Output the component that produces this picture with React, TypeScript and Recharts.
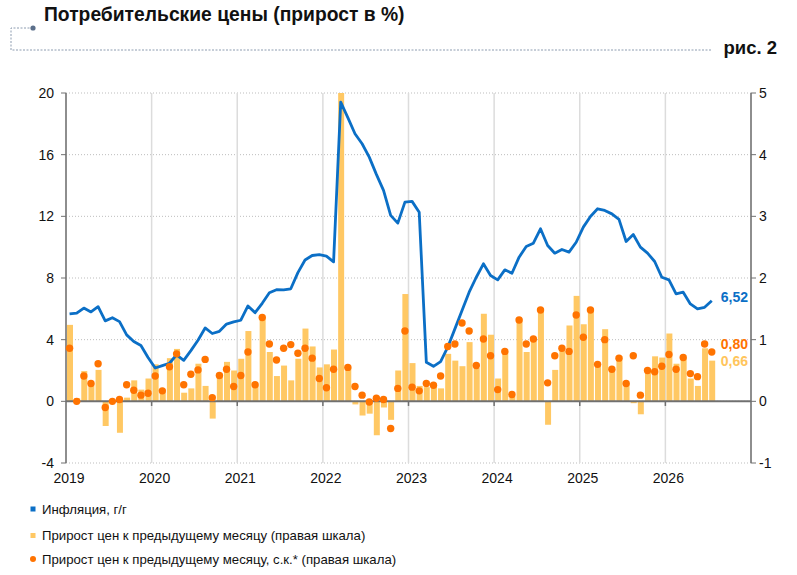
import React from 'react';
import {
  ComposedChart, Bar, Line, XAxis, YAxis, CartesianGrid, ReferenceLine, LabelList,
} from 'recharts';

// Инфляция, г/г (левая шкала), январь 2019 – июль 2026
const inflationYoY = [
  5.67, 5.72, 6.05, 5.8, 6.14, 5.22, 5.42, 5.17, 4.31, 3.88, 3.62, 2.84,
  2.16, 2.32, 2.47, 3.02, 2.66, 3.29, 3.96, 4.76, 4.4, 4.54, 5.01, 5.15,
  5.26, 6.19, 5.75, 6.36, 7.04, 7.24, 7.23, 7.3, 8.35, 9.17, 9.46, 9.51,
  9.42, 9.05, 19.41, 18.4, 17.36, 16.71, 15.84, 14.72, 13.68, 12.06, 11.56, 12.92,
  12.97, 12.27, 2.53, 2.27, 2.58, 3.51, 4.7, 5.89, 7.08, 8.05, 8.92, 8.16,
  7.88, 8.53, 8.31, 9.35, 10.04, 10.26, 11.19, 10.11, 9.61, 9.85, 9.68, 10.32,
  11.3, 11.99, 12.49, 12.38, 12.16, 11.8, 10.37, 10.82, 10.0, 9.61, 9.07, 8.05,
  7.88, 6.97, 7.08, 6.32, 6.0, 6.1, 6.52,
];

// Прирост цен к предыдущему месяцу (правая шкала)
const monthlyGrowth = [
  1.24, 0.05, 0.49, 0.29, 0.51, -0.4, 0.0, -0.51, 0.06, 0.34, 0.19, 0.37,
  0.6, 0.15, 0.7, 0.85, 0.14, 0.21, 0.61, 0.25, -0.28, 0.42, 0.64, 0.5,
  0.69, 1.14, 0.27, 1.35, 0.8, 0.41, 0.58, 0.34, 0.69, 1.18, 0.89, 0.55,
  0.6, 0.84, 5.0, 0.54, -0.05, -0.23, -0.2, -0.55, -0.1, -0.3, 0.5, 1.74,
  0.62, 0.25, 0.23, 0.29, 0.21, 0.77, 0.66, 0.57, 0.96, 0.54, 1.42, 1.08,
  0.37, 0.81, 0.08, 1.33, 0.8, 1.01, 1.47, -0.38, 0.51, 0.82, 1.23, 1.71,
  1.25, 1.48, 0.6, 1.17, 0.52, 0.73, 0.3, -0.03, -0.21, 0.49, 0.73, 0.71,
  1.1, 0.61, 0.7, 0.37, 0.25, 0.86, 0.66,
];

// Прирост цен к предыдущему месяцу, с.к. (правая шкала)
const monthlyGrowthSA = [
  0.86, 0.0, 0.41, 0.29, 0.61, -0.1, 0.0, 0.03, 0.27, 0.18, 0.1, 0.13,
  0.41, 0.17, 0.56, 0.77, 0.27, 0.44, 0.51, 0.68, 0.06, 0.42, 0.52, 0.24,
  0.42, 0.8, 0.27, 1.36, 0.93, 0.67, 0.86, 0.92, 0.78, 0.86, 0.7, 0.37,
  0.22, 0.52, null, 0.55, 0.24, 0.1, -0.01, 0.05, 0.03, -0.44, 0.21, 1.14,
  0.23, 0.17, 0.29, 0.26, 0.41, 0.89, 0.93, 1.27, 1.14, 0.58, 1.01, 0.74,
  0.19, 0.81, 0.11, 1.32, 0.93, 1.01, 1.48, 0.3, 0.74, 0.86, 0.81, 1.4,
  1.04, 1.48, 0.6, 1.0, 0.52, 0.7, 0.29, 0.74, 0.1, 0.5, 0.48, 0.57,
  0.76, 0.52, 0.71, 0.45, 0.4, 0.93, 0.8,
];

const years = ['2019', '2020', '2021', '2022', '2023', '2024', '2025', '2026'];
const leftTicks = [-4, 0, 4, 8, 12, 16, 20];
const rightTicks = [-1, 0, 1, 2, 3, 4, 5];

const BLUE = '#0b6fc6';
const YELLOW = '#ffc864';
const ORANGE = '#ff7300';
const AXIS = '#707070';

// x — середина месяца, считая от января 2019
const data = inflationYoY.map((v, i) => ({
  x: i + 0.5,
  yoy: v,
  mom: monthlyGrowth[i],
  momSA: monthlyGrowthSA[i],
}));
const lastIdx = data.length - 1;
const yearTicks = years.map((_, i) => i * 12);

const fmt = (v: number) => v.toFixed(2).replace('.', ',');

// подпись последнего значения справа от ряда
const endLabel = (color: string, dy: number) => (props: any) => {
  const { index, value } = props;
  if (index !== lastIdx) return null;
  const vb = props.viewBox || {};
  const x = props.x ?? vb.x;
  const y = props.y ?? vb.y;
  return (
    <text x={x + 9} y={y + dy} fill={color} fontSize={14} fontWeight="bold" dominantBaseline="central">
      {fmt(Number(value))}
    </text>
  );
};

export default function App() {
  const tickStyle = { fontSize: 14, fill: '#111' };
  return (
    <div style={{ position: 'absolute', left: 0, top: 0, width: 797, height: 575, background: '#fff', fontFamily: '"Liberation Sans", Arial, sans-serif' }}>
      <ComposedChart width={797} height={575} data={data} margin={{ top: 93, right: 0, bottom: 0, left: 0 }}>
        <CartesianGrid yAxisId="left" vertical={false} stroke="#bdbdbd" strokeDasharray="1 2" />
        <CartesianGrid yAxisId="left" horizontal={false} stroke="#dcdcdc" strokeWidth={1.5} />
        <XAxis
          dataKey="x"
          type="number"
          domain={[0, 96]}
          ticks={yearTicks}
          tickFormatter={(v) => years[v / 12]}
          axisLine={false}
          tickLine={false}
          tickSize={8}
          tickMargin={2}
          height={112}
          tick={tickStyle}
          dx={3}
        />
        <YAxis
          yAxisId="left"
          domain={[-4, 20]}
          ticks={leftTicks}
          width={66}
          tickSize={5}
          tickMargin={7}
          axisLine={{ stroke: AXIS, strokeWidth: 1.5 }}
          tickLine={{ stroke: AXIS }}
          tick={tickStyle}
        />
        <YAxis
          yAxisId="right"
          orientation="right"
          domain={[-1, 5]}
          ticks={rightTicks}
          width={46}
          tickSize={5}
          tickMargin={3}
          axisLine={{ stroke: AXIS, strokeWidth: 1.5 }}
          tickLine={{ stroke: AXIS }}
          tick={tickStyle}
        />
        <Bar yAxisId="right" dataKey="mom" fill={YELLOW} barSize={6} isAnimationActive={false} />
        <ReferenceLine yAxisId="left" y={0} stroke={AXIS} strokeWidth={2} />
        {yearTicks.slice(1).map((t) => (
          <ReferenceLine key={t} yAxisId="left" segment={[{ x: t, y: 0 }, { x: t, y: -0.3 }]} stroke={AXIS} strokeWidth={1.5} />
        ))}
        {/* невидимый ряд только для подписи последнего столбика */}
        <Line
          yAxisId="right"
          dataKey="mom"
          stroke="none"
          dot={false}
          activeDot={false}
          legendType="none"
          isAnimationActive={false}
        >
          <LabelList dataKey="mom" content={endLabel('#ffc55c', 0)} />
        </Line>
        <Line
          yAxisId="left"
          dataKey="yoy"
          type="linear"
          stroke={BLUE}
          strokeWidth={2.8}
          strokeLinejoin="round"
          dot={false}
          isAnimationActive={false}
        >
          <LabelList dataKey="yoy" content={endLabel(BLUE, -4)} />
        </Line>
        <Line
          yAxisId="right"
          dataKey="momSA"
          type="linear"
          stroke="none"
          dot={{ r: 3.7, fill: ORANGE, stroke: 'none' }}
          isAnimationActive={false}
        >
          <LabelList dataKey="momSA" content={endLabel(ORANGE, -8)} />
        </Line>
      </ComposedChart>

      <svg width={797} height={575} style={{ position: 'absolute', left: 0, top: 0, pointerEvents: 'none' }}>
        <text x={44} y={21} fontSize={19.3} fontWeight="bold" fill="#111">Потребительские цены (прирост в %)</text>
        <path d="M33 28 H11 V50 H712" fill="none" stroke="#8d9cb0" strokeWidth={1} strokeDasharray="2 1.5" />
        <circle cx={33} cy={28} r={2.6} fill="#5b6f8a" />
        <text x={777} y={54} fontSize={18.5} fontWeight="bold" fill="#111" textAnchor="end">рис. 2</text>

        <rect x={30.5} y={506.5} width={5} height={5} fill={BLUE} />
        <text x={42} y={513.5} fontSize={13.2} fill="#111">Инфляция, г/г</text>
        <rect x={30.5} y={533} width={5} height={5} fill={YELLOW} />
        <text x={42} y={540} fontSize={13.2} fill="#111">Прирост цен к предыдущему месяцу (правая шкала)</text>
        <circle cx={33} cy={559} r={3} fill={ORANGE} />
        <text x={42} y={563.5} fontSize={13.2} fill="#111">Прирост цен к предыдущему месяцу, с.к.* (правая шкала)</text>
      </svg>
    </div>
  );
}
